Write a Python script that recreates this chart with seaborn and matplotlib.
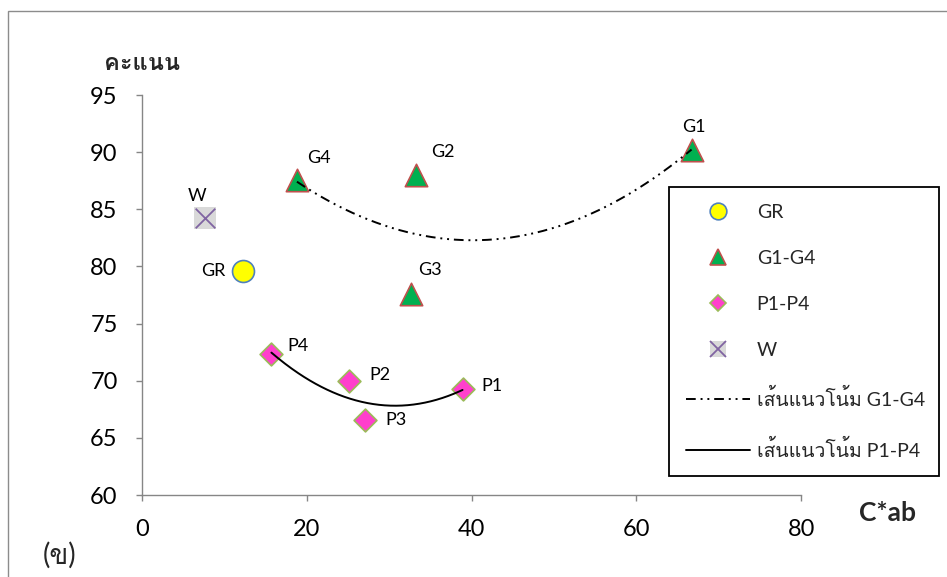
import numpy as np
import pandas as pd
import seaborn as sns
import matplotlib.pyplot as plt
from matplotlib import font_manager
from matplotlib.ft2font import FT2Font
from matplotlib.lines import Line2D
from matplotlib.patches import Rectangle

# --- data ---
gr_x = [12.2]
gr_y = [79.6]

g_labels = ["G1", "G2", "G3", "G4"]
g_x = [66.7, 33.3, 32.6, 18.8]
g_y = [90.2, 88.0, 77.6, 87.6]

p_labels = ["P1", "P2", "P3", "P4"]
p_x = [38.9, 25.1, 27.1, 15.7]
p_y = [69.3, 70.0, 66.6, 72.3]

w_x = [7.6]
w_y = [84.2]

legend_labels = ["GR", "G1-G4", "P1-P4", "W",
                 "เส้นแนวโน้ม G1-G4", "เส้นแนวโน้ม P1-P4"]
x_ticks = [0, 20, 40, 60, 80]
y_ticks = [60, 65, 70, 75, 80, 85, 90, 95]


def find_thai_font():
    """First installed family that has Thai glyphs."""
    for f in font_manager.fontManager.ttflist:
        try:
            if FT2Font(f.fname).get_char_index(0x0E04):
                return f.name
        except Exception:
            pass
    return None


def trend(xs, ys):
    # 2nd order polynomial trendline, like the spreadsheet one
    c = np.polyfit(xs, ys, 2)
    xx = np.linspace(min(xs), max(xs), 200)
    return pd.DataFrame({"x": xx, "y": np.polyval(c, xx)})


sns.set_theme(style="white")
thai = find_thai_font()
families = ["Lato"] + ([thai] if thai else []) + ["DejaVu Sans"]
plt.rcParams["font.family"] = families

fig = plt.figure(figsize=(9.47, 5.77), dpi=100)
ax = fig.add_axes([0.150, 0.1421, 0.696, 0.6932])

# outer chart border
fig.patches.append(Rectangle((8 / 947, -0.05), 1.1, 1 - 11 / 577 + 0.05,
                             transform=fig.transFigure, fill=False,
                             edgecolor="#8c8c8c", linewidth=1.0))

# --- points ---
sns.scatterplot(x=gr_x, y=gr_y, marker="o", s=250, color="#FFFF00",
                edgecolor="#4F81BD", linewidth=1.2, ax=ax, legend=False)
sns.scatterplot(x=g_x, y=g_y, marker="^", s=260, color="#00B050",
                edgecolor="#C0504D", linewidth=1.2, ax=ax, legend=False)
sns.scatterplot(x=p_x, y=p_y, marker="D", s=135, color="#FF3FCC",
                edgecolor="#9BBB59", linewidth=1.2, ax=ax, legend=False)
sns.scatterplot(x=w_x, y=w_y, marker="s", s=270, color="#D9D9D9",
                linewidth=0, ax=ax, legend=False)
sns.scatterplot(x=w_x, y=w_y, marker="x", s=200, color="#8064A2",
                linewidth=1.3, ax=ax, legend=False)

# --- trendlines ---
g_dash = (0, (5, 2.5, 1, 2.5, 1, 2.5))
sns.lineplot(data=trend(g_x, g_y), x="x", y="y", color="black",
             linewidth=1.4, linestyle=g_dash, ax=ax)
sns.lineplot(data=trend(p_x, p_y), x="x", y="y", color="black",
             linewidth=1.4, ax=ax)

# --- point labels (offsets in pixels) ---
lab_kw = dict(textcoords="offset pixels", fontsize=13, color="black")
g_off = {"G1": ((2, 23), "center"), "G2": ((15, 23), "left"),
         "G3": ((7, 24), "left"), "G4": ((10, 22), "left")}
for lab, x, y in zip(g_labels, g_x, g_y):
    off, ha = g_off[lab]
    ax.annotate(lab, (x, y), xytext=off, ha=ha, va="center", **lab_kw)
p_off = {"P1": (19, 3), "P2": (21, 6), "P3": (20, 0), "P4": (16, 8)}
for lab, x, y in zip(p_labels, p_x, p_y):
    ax.annotate(lab, (x, y), xytext=p_off[lab], ha="left", va="center", **lab_kw)
ax.annotate("GR", (gr_x[0], gr_y[0]), xytext=(-17, 0), ha="right", va="center", **lab_kw)
ax.annotate("W", (w_x[0], w_y[0]), xytext=(-8, 22), ha="center", va="center", **lab_kw)

# --- axes ---
ax.set_xlim(0, 80)
ax.set_ylim(60, 95)
ax.set_xticks(x_ticks)
ax.set_yticks(y_ticks)
ax.set_xlabel("")
ax.set_ylabel("")
for side in ["top", "right"]:
    ax.spines[side].set_visible(False)
for side in ["left", "bottom"]:
    ax.spines[side].set_color("#868686")
    ax.spines[side].set_linewidth(1.0)
ax.tick_params(axis="both", direction="out", length=4.5, width=1.0,
               color="#868686", labelsize=17, pad=13, labelcolor="black",
               left=True, bottom=True)

fig.text(142 / 947, 1 - 62 / 577, "คะแนน", fontsize=17, fontweight="bold",
         ha="center", va="center")
fig.text(887 / 947, 1 - 513 / 577, "C*ab", fontsize=19, fontweight="bold",
         ha="center", va="center")
fig.text(60 / 947, 1 - 555 / 577, "(ข)", fontsize=20, ha="center", va="center")

# --- legend ---
handles = [
    Line2D([], [], ls="", marker="o", ms=12, mfc="#FFFF00", mec="#4F81BD", mew=1.2),
    Line2D([], [], ls="", marker="^", ms=12, mfc="#00B050", mec="#C0504D", mew=1.2),
    Line2D([], [], ls="", marker="D", ms=8.5, mfc="#FF3FCC", mec="#9BBB59", mew=1.2),
    (Line2D([], [], ls="", marker="s", ms=12, mfc="#D9D9D9", mec="#D9D9D9", mew=0),
     Line2D([], [], ls="", marker="x", ms=11, mec="#8064A2", mew=1.3)),
    Line2D([], [], color="black", lw=1.4, linestyle=g_dash),
    Line2D([], [], color="black", lw=1.4),
]
leg = fig.legend(handles, legend_labels, loc="upper left",
                 bbox_to_anchor=(669 / 947, 1 - 477 / 577, 270 / 947, 290 / 577),
                 bbox_transform=fig.transFigure, mode="expand",
                 fontsize=14, frameon=True, fancybox=False, framealpha=1,
                 edgecolor="black", borderpad=0.85, labelspacing=1.5,
                 handlelength=3.3, handletextpad=0.36, borderaxespad=0)
leg.get_frame().set_linewidth(1.3)

fig.savefig("out.png", dpi=100)
